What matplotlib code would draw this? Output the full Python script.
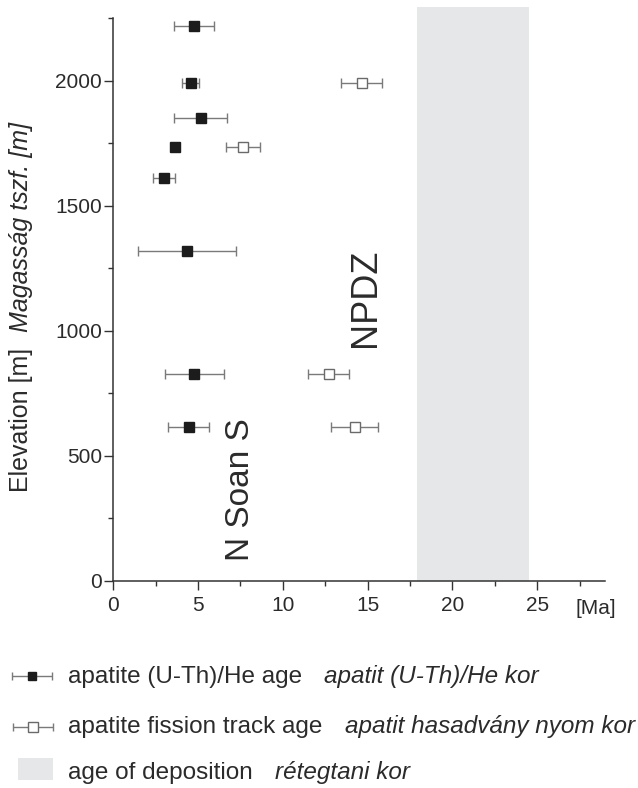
import matplotlib
matplotlib.use("Agg")
import matplotlib.pyplot as plt
from matplotlib.patches import Rectangle
from matplotlib.ticker import MultipleLocator

plt.rcParams['font.family'] = ['Liberation Sans', 'DejaVu Sans']

# apatite (U-Th)/He ages
he_elev = [2220, 1990, 1850, 1735, 1610, 1320, 825, 615]
he_age = [4.75, 4.56, 5.15, 3.62, 2.97, 4.33, 4.78, 4.45]
he_err = [1.2, 0.5, 1.55, 0.15, 0.65, 2.9, 1.75, 1.2]

# apatite fission track ages
aft_elev = [1990, 1735, 825, 615]
aft_age = [14.65, 7.67, 12.70, 14.23]
aft_err = [1.2, 1.0, 1.2, 1.4]

# age of deposition range
dep_range = [17.9, 24.5]

x_ticks = [0, 5, 10, 15, 20, 25]
y_ticks = [0, 500, 1000, 1500, 2000]

TXT = '#2b2b2b'
AX = '#333333'
BAR = '#7a7a7a'

fig = plt.figure(figsize=(6.38, 7.88), dpi=100)
ax = fig.add_axes([0.1776, 0.2633, 0.7707, 0.7278])

ax.axvspan(dep_range[0], dep_range[1], color='#e6e7e9', zorder=0, lw=0)

ax.errorbar(he_age, he_elev, xerr=he_err, fmt='s', ms=7.4, mfc='#1c1c1c',
            mec='#1c1c1c', ecolor=BAR, elinewidth=1.0, capsize=3.6,
            capthick=1.0, zorder=3)
ax.errorbar(aft_age, aft_elev, xerr=aft_err, fmt='s', ms=7.6, mfc='white',
            mec='#6a6a6a', mew=1.0, ecolor=BAR, elinewidth=1.0, capsize=3.6,
            capthick=1.0, zorder=3)

ax.set_xlim(0, 29)
ax.set_ylim(0, 2294)
ax.set_xticks(x_ticks)
ax.set_yticks(y_ticks)
ax.xaxis.set_minor_locator(MultipleLocator(2.5))
ax.yaxis.set_minor_locator(MultipleLocator(250))

for s in ('top', 'right'):
    ax.spines[s].set_visible(False)
for s in ('left', 'bottom'):
    ax.spines[s].set_color(AX)
    ax.spines[s].set_linewidth(1.1)
ax.spines['left'].set_bounds(0, 2250)
ax.spines['bottom'].set_bounds(0, 29)

ax.tick_params(axis='both', which='major', length=6.5, width=1.0, color=AX,
               labelcolor=TXT, labelsize=15)
ax.tick_params(axis='both', which='minor', length=3.5, width=1.0, color=AX)
ax.tick_params(axis='y', which='major', pad=1.5)
ax.tick_params(axis='x', which='major', pad=5)

ax.text(14.9, 1130, 'NPDZ', rotation=90, ha='center', va='center',
        fontsize=26, color=TXT)
ax.text(7.53, 364, 'N Soan S', rotation=90, ha='center', va='center',
        fontsize=24, color=TXT)

W, H = 638, 788


def fx(px):
    return px / W


def fy(py):
    return 1 - py / H


fig.text(fx(596), fy(608), '[Ma]', ha='center', va='center', fontsize=15,
         color=TXT)

fig.text(fx(21), fy(491.7), 'Elevation [m]', rotation=90, ha='center',
         va='bottom', fontsize=18, color=TXT)
fig.text(fx(21), fy(332), 'Magasság tszf. [m]', rotation=90, ha='center',
         va='bottom', fontsize=18, style='italic', color=TXT)

# legend drawn in a pixel-space overlay
lax = fig.add_axes([0, 0, 1, 1], zorder=5)
lax.set_xlim(0, W)
lax.set_ylim(H, 0)
lax.axis('off')
lax.patch.set_alpha(0)

lax.errorbar([32.3], [675.7], xerr=[20], fmt='s', ms=6.2, mfc='#1c1c1c',
             mec='#1c1c1c', ecolor=BAR, elinewidth=1.0, capsize=3.2,
             capthick=1.0)
lax.errorbar([33], [727.3], xerr=[20], fmt='s', ms=6.6, mfc='white',
             mec='#6a6a6a', mew=1.0, ecolor=BAR, elinewidth=1.0, capsize=3.2,
             capthick=1.0)
lax.add_patch(Rectangle((18, 758), 35, 22, color='#e6e7e9', lw=0))

rows = [
    (683.3, 'apatite (U-Th)/He age', 324, 'apatit (U-Th)/He kor'),
    (733.3, 'apatite fission track age', 345, 'apatit hasadvány nyom kor'),
    (779.3, 'age of deposition', 275, 'rétegtani kor'),
]
for yb, en, xi, hu in rows:
    lax.text(67.5, yb, en, ha='left', va='baseline', fontsize=17.5, color=TXT)
    lax.text(xi, yb, hu, ha='left', va='baseline', fontsize=17.5,
             style='italic', color=TXT)

fig.savefig('out.png', dpi=100)
